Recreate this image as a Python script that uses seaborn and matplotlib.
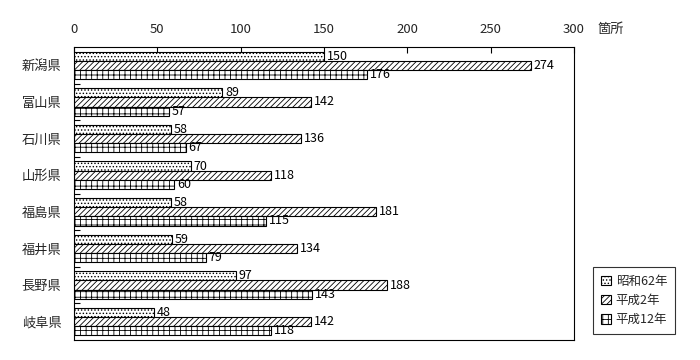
import matplotlib
matplotlib.use("Agg")
import matplotlib.pyplot as plt
import seaborn as sns
import pandas as pd
from matplotlib.patches import Patch

prefectures = ["新潟県", "富山県", "石川県", "山形県", "福島県", "福井県", "長野県", "岐阜県"]
series_names = ["昭和62年", "平成2年", "平成12年"]
s62 = [150, 89, 58, 70, 58, 59, 97, 48]
h2 = [274, 142, 136, 118, 181, 134, 188, 142]
h12 = [176, 57, 67, 60, 115, 79, 143, 118]
x_ticks = [0, 50, 100, 150, 200, 250, 300]
unit_label = "箇所"

sns.set_theme(style="white")
plt.rcParams['font.family'] = ['Noto Sans CJK JP', 'DejaVu Sans']
plt.rcParams['hatch.linewidth'] = 0.6

rows = []
for name, vals in zip(series_names, [s62, h2, h12]):
    for p, v in zip(prefectures, vals):
        rows.append({"県": p, "年": name, "値": v})
df = pd.DataFrame(rows)

fig = plt.figure(figsize=(7, 3.6), dpi=100)
ax = fig.add_axes([74/700, 1-340/360, 500/700, 293/360])

sns.barplot(data=df, y="県", x="値", hue="年", order=prefectures, hue_order=series_names,
            orient="h", width=0.75, palette=["white"]*3,
            edgecolor="black", linewidth=0.8, legend=False, ax=ax, saturation=1)

hatches = [".....", "//////", "+++"]
for cont, h in zip(ax.containers, hatches):
    for bar in cont:
        bar.set_hatch(h)
        bar.set_facecolor("white")
        bar.set_edgecolor("black")
    ax.bar_label(cont, padding=2, fontsize=9, color="black")

ax.set_xlim(0, 300)
ax.set_ylim(len(prefectures)-0.5, -0.5)
ax.set_xlabel("")
ax.set_ylabel("")
ax.xaxis.tick_top()
ax.set_xticks(x_ticks)
ax.tick_params(axis="x", direction="in", length=4, width=0.8, color="black",
               labelsize=9.5, pad=8, top=True, bottom=False)
ax.set_yticks(range(len(prefectures)))
ax.set_yticklabels(prefectures)
ax.tick_params(axis="y", which="major", length=0, labelsize=9.5, pad=9)
ax.set_yticks([i + 0.5 for i in range(len(prefectures)-1)], minor=True)
ax.tick_params(axis="y", which="minor", direction="in", length=4, width=0.8, color="black", left=True)
for sp in ax.spines.values():
    sp.set_visible(True)
    sp.set_color("black")
    sp.set_linewidth(0.8)

fig.text(598/700, 1-30/360, unit_label, fontsize=9.5, ha="left", va="center")

handles = [Patch(facecolor="white", edgecolor="black", hatch=h, linewidth=0.8) for h in hatches]
leg = fig.legend(handles, series_names, loc="upper left",
                 bbox_to_anchor=(587/700, 1-261/360), fontsize=9, frameon=True,
                 fancybox=False, edgecolor="black", handlelength=0.8, handleheight=0.8,
                 handletextpad=0.4, labelspacing=0.5, borderpad=0.6)
leg.get_frame().set_linewidth(0.8)

fig.savefig("out.png", dpi=100)
